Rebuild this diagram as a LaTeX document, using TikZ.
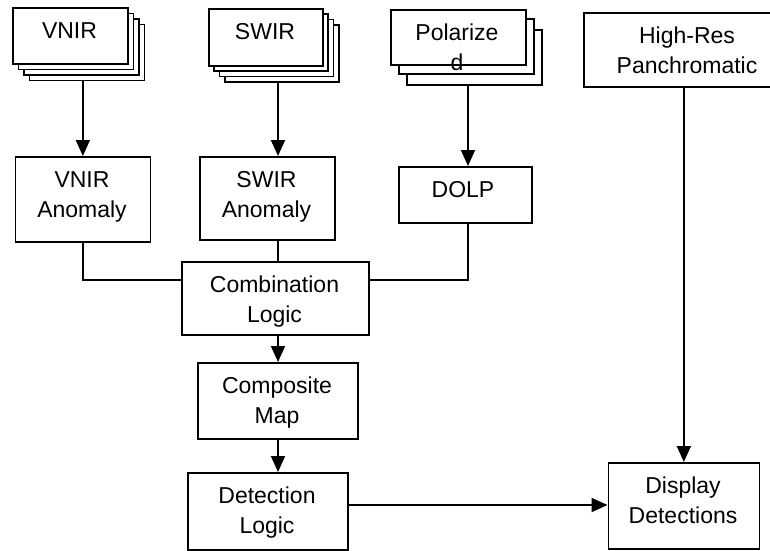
\documentclass[tikz,border=0pt]{standalone}
\usepackage{fontspec}
\setmainfont{Liberation Sans}
\usetikzlibrary{arrows.meta,calc}
\begin{document}
\begin{tikzpicture}[x=1pt,y=-1pt,
  box/.style={draw=black, fill=white, line width=1.7pt, inner sep=0pt, anchor=north west},
  txt/.style={font=\fontsize{23}{30}\selectfont, align=center, inner sep=0pt, anchor=north},
  conn/.style={line width=1.7pt},
  arr/.style={conn, -{Triangle[width=14pt,length=16pt]}}]
\useasboundingbox (0,0) rectangle (770,550);
\fill[white] (0,0) rectangle (770,550);
\clip (0,0) rectangle (770,550);

% VNIR stack
\node[box, minimum width=115pt, minimum height=56pt] (vnir3) at (28.5,23.5) {};
\node[box, minimum width=115pt, minimum height=56pt] (vnir2) at (23,18) {};
\node[box, minimum width=115pt, minimum height=56pt] (vnir1) at (17.5,12.5) {};
\node[box, minimum width=115pt, minimum height=56pt] (vnir) at (12,7) {};
% SWIR stack
\node[box, minimum width=114pt, minimum height=57pt] (swir3) at (224,24) {};
\node[box, minimum width=114pt, minimum height=57pt] (swir2) at (218.7,18.7) {};
\node[box, minimum width=114pt, minimum height=57pt] (swir1) at (213.3,13.3) {};
\node[box, minimum width=114pt, minimum height=57pt] (swir) at (208,8) {};
% Polarized stack
\node[box, minimum width=135pt, minimum height=55pt] (pol3) at (406,29) {};
\node[box, minimum width=135pt, minimum height=55pt] (pol2) at (398,18) {};
\node[box, minimum width=135pt, minimum height=55pt] (pol) at (390,9) {};
% other boxes
\node[box, minimum width=208pt, minimum height=74pt] (hires) at (583,12) {};
\node[box, minimum width=135pt, minimum height=85pt] (vnirA) at (14.5,156) {};
\node[box, minimum width=135pt, minimum height=83pt] (swirA) at (199,156) {};
\node[box, minimum width=133pt, minimum height=56pt] (dolp) at (398,166) {};
\node[box, minimum width=187pt, minimum height=73pt] (comb) at (181,261) {};
\node[box, minimum width=160pt, minimum height=76pt] (comp) at (197,362) {};
\node[box, minimum width=160pt, minimum height=77pt] (det) at (187,472) {};
\node[box, minimum width=151pt, minimum height=86pt] (disp) at (607.5,462) {};

% texts
\node[txt] (tvnir) at (69.5,22) {VNIR};
\node[txt] (tswir) at (265,23) {SWIR};
\node[txt] (tpol) at (457,24) {Polarize\\d};
\node[txt] (thires) at (687,27) {High-Res\\Panchromatic};
\node[txt] (tvnirA) at (82,171) {VNIR\\Anomaly};
\node[txt] (tswirA) at (266.5,171) {SWIR\\Anomaly};
\node[txt] (tdolp) at (463,181) {DOLP};
\node[txt] (tcomb) at (274.5,276) {Combination\\Logic};
\node[txt] (tcomp) at (277,377) {Composite\\Map};
\node[txt] (tdet) at (267,487) {Detection\\Logic};
\node[txt] (tdisp) at (683,477) {Display\\Detections};

% guide coordinates
\coordinate (col) at (278,0);
\coordinate (polx) at (468,0);
\coordinate (joinY) at (0,280);
\coordinate (rowY) at (0,505);

% connectors
\draw[arr] (vnirA.north |- vnir3.south) -- (vnirA.north);
\draw[arr] (col |- swir3.south) -- (col |- swirA.north);
\draw[arr] (polx |- pol3.south) -- (polx |- dolp.north);
\draw[conn] (vnirA.south) |- (comb.west |- joinY);
\draw[conn] (col |- swirA.south) -- (col |- comb.north);
\draw[conn] (polx |- dolp.south) |- (comb.east |- joinY);
\draw[arr] (col |- comb.south) -- (col |- comp.north);
\draw[arr] (col |- comp.south) -- (col |- det.north);
\draw[arr] (det.east |- rowY) -- (disp.west |- rowY);
\draw[arr] (disp.north |- hires.south) -- (disp.north);
\end{tikzpicture}
\end{document}
